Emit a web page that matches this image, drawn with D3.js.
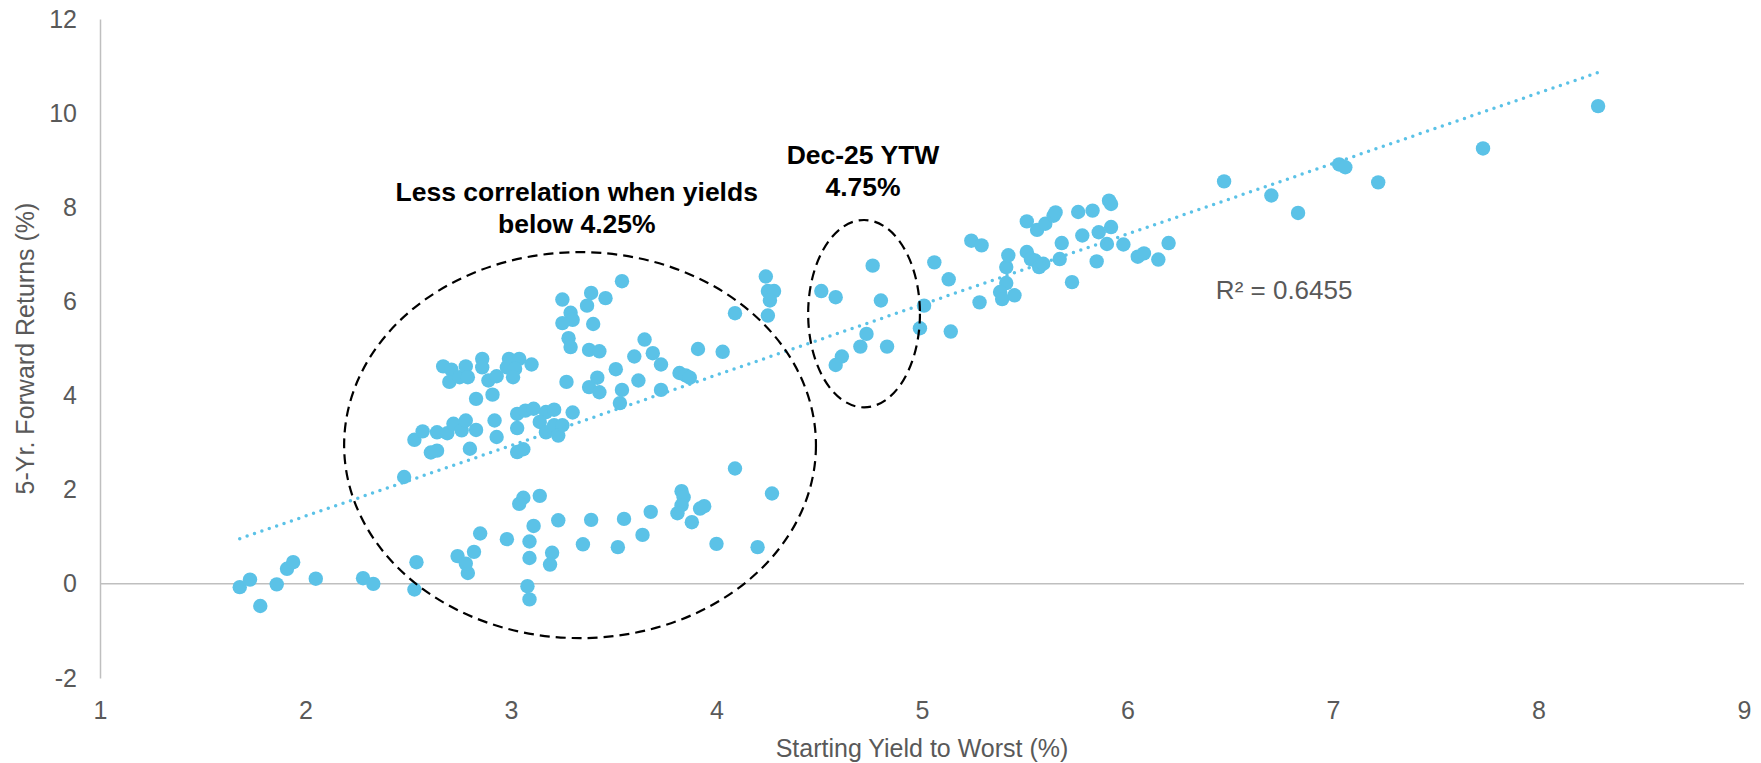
<!DOCTYPE html>
<html>
<head>
<meta charset="utf-8">
<script src="https://cdn.jsdelivr.net/npm/d3@7"></script>
<style>
  body { margin: 0; background: #fff; }
  svg text { font-family: Arial, "Liberation Sans", sans-serif; }
</style>
</head>
<body>
<div id="chart"></div>
<script>
// Starting yield to worst (%) and 5-yr forward returns (%)
const yields = [
  1.68, 1.73, 1.78, 1.86, 1.91, 1.94, 2.05, 2.28, 2.33, 2.53, 2.54, 2.48,
  3.54, 3.25, 3.39, 3.46, 3.37, 3.29, 3.30, 3.25, 3.40, 3.28, 3.29, 3.38, 3.43,
  3.65, 3.60, 3.69, 3.73, 3.91, 4.03, 4.24, 4.25, 4.28, 4.26, 4.25, 4.09,
  3.51, 3.62, 3.73, 3.82, 3.85, 3.87, 3.54, 3.53, 3.42, 3.38, 3.43, 3.27, 3.30,
  2.67, 2.71, 2.70, 2.75, 2.78, 2.79, 2.86, 2.86, 2.89, 2.93, 2.99, 3.04, 2.98,
  3.02, 3.01, 3.10, 2.83, 2.91,
  2.53, 2.57, 2.64, 2.69, 2.72, 2.76, 2.78, 2.83, 2.61, 2.64, 2.80, 2.92, 2.93,
  3.03, 3.07, 3.11, 3.03, 3.03, 3.06, 3.17, 3.21, 3.14, 3.17, 3.21, 3.23, 3.25,
  4.09,
  3.06, 3.04, 3.14, 3.11, 3.09, 3.09, 2.98, 2.85, 2.74, 2.82, 2.79, 2.78, 3.08,
  3.09, 3.20, 3.19, 3.23, 3.35, 3.39, 3.52, 3.55, 3.64, 3.68, 3.83, 3.84, 3.83,
  3.81, 3.88, 3.92, 3.94, 4.00, 4.20, 4.27,
  4.76, 4.51, 4.58, 4.80, 4.73, 4.70, 4.83, 4.61, 4.58, 5.01, 4.99, 5.14, 5.06,
  5.13, 5.28, 5.41, 5.41, 5.38, 5.39, 5.45, 5.24, 5.29,
  6.47, 7.03, 7.06, 7.22, 6.70, 6.83, 5.51, 5.56, 5.60, 5.64, 5.65, 5.76, 5.83,
  5.91, 5.92, 5.68, 5.78, 5.86, 5.92, 5.90, 5.98, 6.05, 6.08, 6.15, 6.20, 5.85,
  5.67, 5.73, 5.42, 5.51, 5.53, 5.55, 5.57, 5.59,
  8.29, 7.73
];
const fwdReturns = [
  -0.07, 0.09, -0.47, -0.01, 0.32, 0.46, 0.11, 0.12, 0.00, -0.12, 0.46, 2.27,
  6.43, 6.04, 6.18, 6.07, 5.91, 5.76, 5.61, 5.54, 5.52, 5.22, 5.03, 4.97, 4.94,
  5.19, 4.83, 4.90, 4.66, 4.99, 4.93, 6.53, 6.22, 6.22, 6.02, 5.70, 5.75,
  4.56, 4.32, 4.12, 4.48, 4.43, 4.38, 4.12, 3.84, 4.38, 4.18, 4.07, 4.29, 3.64,
  4.62, 4.55, 4.29, 4.39, 4.62, 4.39, 4.78, 4.60, 4.32, 4.41, 4.78, 4.78, 4.60,
  4.57, 4.39, 4.66, 3.93, 4.02,
  3.06, 3.24, 3.22, 3.20, 3.40, 3.26, 3.47, 3.27, 2.79, 2.83, 2.87, 3.47, 3.12,
  3.61, 3.68, 3.72, 3.31, 2.80, 2.86, 3.65, 3.70, 3.44, 3.22, 3.37, 3.15, 3.37,
  2.45,
  1.83, 1.70, 1.87, 1.23, 0.90, 0.55, 0.95, 1.07, 0.59, 0.68, 0.23, 0.43, -0.05,
  -0.33, 0.66, 0.41, 1.35, 0.84, 1.36, 0.78, 1.38, 1.04, 1.53, 1.97, 1.84, 1.67,
  1.50, 1.31, 1.60, 1.65, 0.85, 0.78, 1.92,
  6.76, 6.22, 6.09, 6.02, 5.31, 5.04, 5.04, 4.83, 4.65, 5.91, 5.43, 5.36, 6.83,
  6.47, 5.98, 6.73, 6.39, 6.20, 6.05, 6.13, 7.29, 7.19,
  8.55, 8.91, 8.85, 8.53, 8.25, 7.88, 7.70, 7.52, 7.65, 7.82, 7.89, 7.90, 7.93,
  8.14, 8.07, 7.24, 7.40, 7.47, 7.58, 7.22, 7.21, 6.95, 7.02, 6.89, 7.24, 6.85,
  6.90, 6.41, 6.98, 7.05, 6.90, 6.87, 6.73, 6.80,
  10.15, 9.25
];

const xTicks = [1, 2, 3, 4, 5, 6, 7, 8, 9];
const yTicks = [-2, 0, 2, 4, 6, 8, 10, 12];

// linear trendline as shown on the chart
const trendSlope = 1.498;
const trendIntercept = -1.556;
const rSquaredLabel = "R\u00b2 = 0.6455";

const width = 1761, height = 763;
const margin = {top: 19, right: 17, bottom: 85, left: 100};
const BLUE = "#5bc2e7";
const GREY_TEXT = "#595959";

let points = yields.map(function(d, i) { return {x: d, y: fwdReturns[i]}; });

let svg = d3.select("#chart")
  .append("svg")
  .attr("width", width)
  .attr("height", height);

let x = d3.scaleLinear().domain([1, 9]).range([margin.left, width - margin.right]);
let y = d3.scaleLinear().domain([-2, 12]).range([height - margin.bottom, margin.top]);

// plain hyphen for negatives, like the original
let plain = function(d) { return String(d); };

// y axis
let yAxis = svg.append("g")
  .attr("transform", `translate(${margin.left},0)`)
  .call(d3.axisLeft(y).tickValues(yTicks).tickFormat(plain).tickSize(0).tickPadding(23).tickSizeOuter(0));
yAxis.select(".domain").attr("stroke", "#bfbfbf").attr("stroke-width", 1.5);
yAxis.selectAll("text").attr("fill", GREY_TEXT).style("font-size", "25px");

// x axis labels (no bottom line, the zero line acts as the axis)
let xAxis = svg.append("g")
  .attr("transform", `translate(0,${height - margin.bottom})`)
  .call(d3.axisBottom(x).tickValues(xTicks).tickFormat(plain).tickSize(0).tickPadding(23));
xAxis.select(".domain").remove();
xAxis.selectAll("text").attr("fill", GREY_TEXT).style("font-size", "25px");

// zero line
svg.append("line")
  .attr("x1", x(1)).attr("x2", x(9))
  .attr("y1", y(0)).attr("y2", y(0))
  .attr("stroke", "#bfbfbf")
  .attr("stroke-width", 1.5);

// axis titles
svg.append("text")
  .attr("x", (x(1) + x(9)) / 2)
  .attr("y", 748)
  .attr("text-anchor", "middle")
  .attr("dominant-baseline", "central")
  .attr("fill", GREY_TEXT)
  .style("font-size", "25px")
  .text("Starting Yield to Worst (%)");

svg.append("text")
  .attr("transform", `translate(25, ${(y(12) + y(-2)) / 2}) rotate(-90)`)
  .attr("text-anchor", "middle")
  .attr("dominant-baseline", "central")
  .attr("fill", GREY_TEXT)
  .style("font-size", "25px")
  .text("5-Yr. Forward Returns (%)");

// points
svg.append("g")
  .selectAll("circle")
  .data(points)
  .enter()
  .append("circle")
  .attr("cx", function(d) { return x(d.x); })
  .attr("cy", function(d) { return y(d.y); })
  .attr("r", 7.2)
  .attr("fill", BLUE);

// trendline over the range of the data
let xMin = d3.min(yields), xMax = d3.max(yields);
svg.append("line")
  .attr("x1", x(xMin)).attr("y1", y(trendSlope * xMin + trendIntercept))
  .attr("x2", x(xMax)).attr("y2", y(trendSlope * xMax + trendIntercept))
  .attr("stroke", BLUE)
  .attr("stroke-width", 3.5)
  .attr("stroke-linecap", "round")
  .attr("stroke-dasharray", "0 7.8");

svg.append("text")
  .attr("x", x(6.43))
  .attr("y", y(6.25))
  .attr("dominant-baseline", "central")
  .attr("fill", GREY_TEXT)
  .style("font-size", "26px")
  .text(rSquaredLabel);

// dashed ellipses
function ellipse(cx, cy, rx, ry) {
  svg.append("ellipse")
    .attr("cx", x(cx))
    .attr("cy", y(cy))
    .attr("rx", x(1 + rx) - x(1))
    .attr("ry", y(0) - y(ry))
    .attr("fill", "none")
    .attr("stroke", "#000")
    .attr("stroke-width", 2.2)
    .attr("stroke-dasharray", "10 6");
}
ellipse(3.336, 2.947, 1.148, 4.10);
ellipse(4.718, 5.74, 0.272, 1.99);

// annotation text
function note(lines, cx, cy) {
  let t = svg.append("text")
    .attr("text-anchor", "middle")
    .attr("font-weight", "bold")
    .attr("fill", "#000")
    .style("font-size", "26.5px");
  lines.forEach(function(l, i) {
    t.append("tspan")
      .attr("x", x(cx))
      .attr("y", y(cy) + i * 32)
      .attr("dominant-baseline", "central")
      .text(l);
  });
}
note(["Less correlation when yields", "below 4.25%"], 3.32, 8.32);
note(["Dec-25 YTW", "4.75%"], 4.713, 9.12);
</script>
</body>
</html>
